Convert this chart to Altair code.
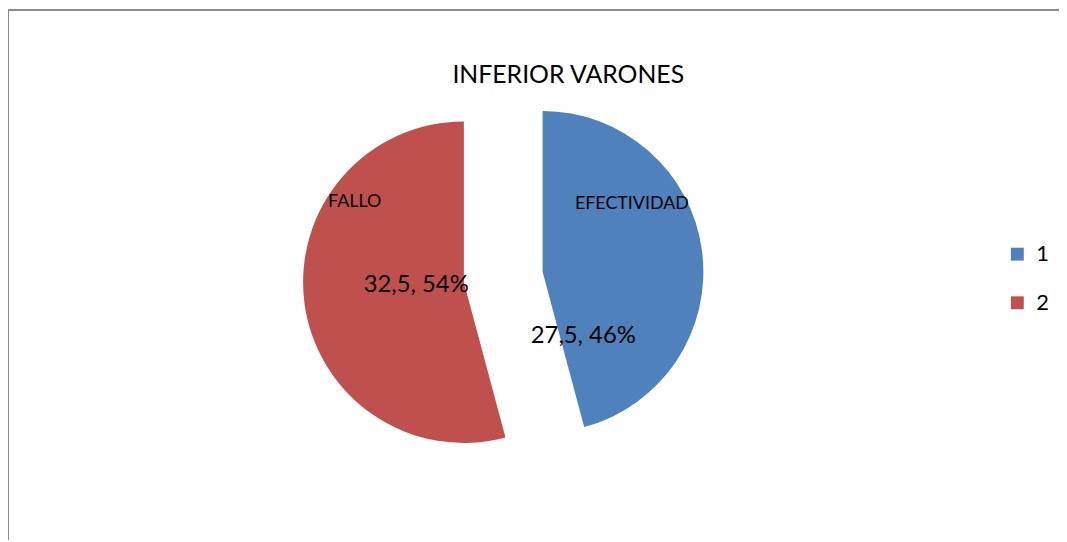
import altair as alt
import pandas as pd

# ---- data ----
series_keys = ["1", "2"]
categories = ["EFECTIVIDAD", "FALLO"]
values = [27.5, 32.5]
value_labels = ["27,5, 46%", "32,5, 54%"]
colors = ["#4F81BD", "#C0504D"]

df = pd.DataFrame({
    "key": series_keys,
    "cat": categories,
    "value": values,
    "vlabel": value_labels,
    "order": list(range(len(values))),
})

FONT = "Lato"
W, H = 1059, 534
CX, CY = 499, 269
R = 162
EXPLODE = 40

base = (
    alt.Chart(df)
    .transform_joinaggregate(total="sum(value)")
    .transform_window(cum="sum(value)", sort=[alt.SortField("order")], frame=[None, 0])
    .transform_calculate(end="datum.cum / datum.total * 2 * PI")
    .transform_calculate(start="(datum.cum - datum.value) / datum.total * 2 * PI")
    .transform_calculate(mid="(datum.start + datum.end) / 2")
    .transform_calculate(px=f"{CX} + {EXPLODE} * sin(datum.mid)")
    .transform_calculate(py=f"{CY} - {EXPLODE} * cos(datum.mid)")
)

arcs = base.mark_arc(outerRadius=R).encode(
    theta=alt.Theta("start:Q", scale=None, stack=None),
    theta2="end:Q",
    x=alt.X("px:Q", scale=None),
    y=alt.Y("py:Q", scale=None),
    color=alt.Color(
        "key:N",
        scale=alt.Scale(domain=series_keys, range=colors),
        legend=alt.Legend(
            title=None,
            orient="none",
            legendX=1006,
            legendY=235,
            symbolType="square",
            symbolSize=169,
            symbolStrokeWidth=0,
            labelFontSize=22,
            labelFont=FONT,
            labelColor="black",
            rowPadding=27,
            labelOffset=8,
        ),
    ),
)


def label(cat, field, dx, dy, size):
    return (
        base.transform_filter(alt.datum.cat == cat)
        .mark_text(dx=dx, dy=dy, fontSize=size, font=FONT, color="black",
                   align="center", baseline="middle")
        .encode(
            x=alt.X("px:Q", scale=None),
            y=alt.Y("py:Q", scale=None),
            text=alt.Text(f"{field}:N"),
        )
    )


labels = [
    label("EFECTIVIDAD", "vlabel", 41, 65, 24),
    label("FALLO", "vlabel", -48, 3, 24),
    label("EFECTIVIDAD", "cat", 90, -68, 18),
    label("FALLO", "cat", -110, -81, 18),
]

frame_df = pd.DataFrame({"a": [0]})
top_edge = alt.Chart(frame_df).mark_rule(color="#8c8c8c", strokeWidth=2).encode(
    x=alt.value(0), x2=alt.value(W), y=alt.value(0)
)
left_edge = alt.Chart(frame_df).mark_rule(color="#8c8c8c", strokeWidth=2).encode(
    x=alt.value(0), y=alt.value(0), y2=alt.value(H)
)

chart = (
    alt.layer(top_edge, left_edge, arcs, *labels)
    .properties(
        width=W,
        height=H,
        autosize=alt.AutoSizeParams(type="none"),
        padding=0,
        title=alt.Title(
            "INFERIOR VARONES",
            fontSize=25,
            font=FONT,
            fontWeight="normal",
            color="black",
            anchor="middle",
            dx=35,
            offset=-80,
        ),
    )
    .configure_view(stroke=None)
)

chart.save("out.html", embed_options={"renderer": "svg", "actions": False})
